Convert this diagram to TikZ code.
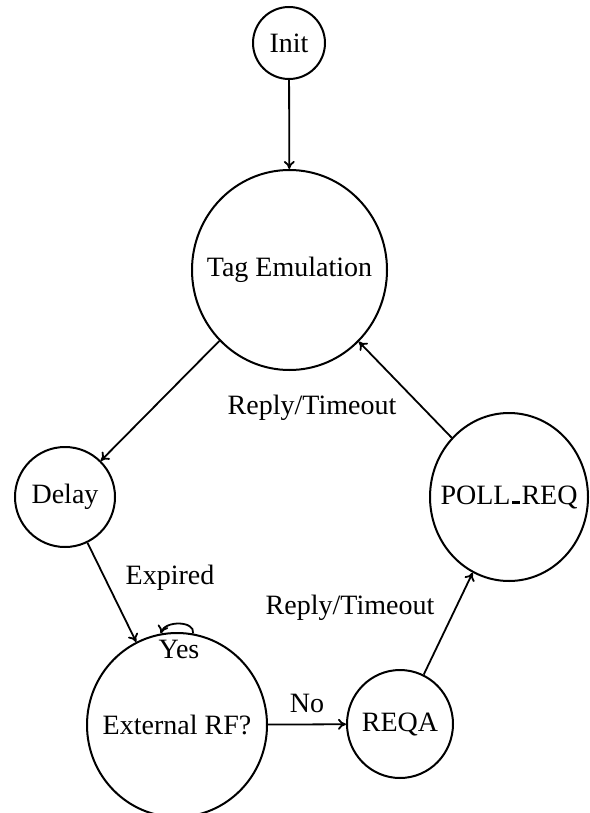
\documentclass[tikz,border=0pt]{standalone}
\usepackage{fontspec}
\setmainfont{Liberation Serif}
\usetikzlibrary{shapes.geometric,arrows.meta}
\begin{document}
\begin{tikzpicture}[x=1pt,y=-1pt,
  stnode/.style={draw, ellipse, line width=2pt, inner sep=0pt},
  lbl/.style={inner sep=0pt},
  conn/.style={line width=1.8pt, -{To[length=8pt,width=11pt]}},
  font=\fontsize{28}{34}\selectfont]
\useasboundingbox (0,0) rectangle (589,813);
\node[stnode, minimum width=72pt, minimum height=72pt] (init) at (289,43) {\makebox[0pt]{Init}};
\node[stnode, minimum width=195pt, minimum height=200pt] (tag) at (289.5,270) {\makebox[0pt]{Tag Emulation}};
\node[stnode, minimum width=100pt, minimum height=100pt] (delay) at (65,497) {\makebox[0pt]{Delay}};
\node[stnode, minimum width=158pt, minimum height=168pt] (poll) at (509,497) {\makebox[0pt]{POLL\hspace{1.5pt}\rule{8pt}{3pt}\hspace{1.5pt}REQ}};
\node[stnode, minimum width=180pt, minimum height=184pt] (ext) at (177,725) {\makebox[0pt]{External RF?}};
\node[stnode, minimum width=106pt, minimum height=108pt] (reqa) at (400,724) {\makebox[0pt]{REQA}};

\draw[conn] (init) -- (tag);
\draw[conn] (tag) -- (delay);
\draw[conn] (delay) -- (ext);
\draw[conn] (ext) -- (reqa);
\draw[conn] (reqa) -- (poll);
\draw[conn] (poll) -- (tag);
\draw[conn] (ext.80) .. controls +(2,-13) and +(4,-13) .. (ext.100);

\node[lbl] (l1) at (312,408) {Reply/Timeout};
\node[lbl] (l2) at (350,608) {Reply/Timeout};
\node[lbl] (l3) at (170,578) {Expired};
\node[lbl] (l4) at (307,703) {No};
\node[lbl] (l5) at (179,649) {Yes};
\end{tikzpicture}
\end{document}
